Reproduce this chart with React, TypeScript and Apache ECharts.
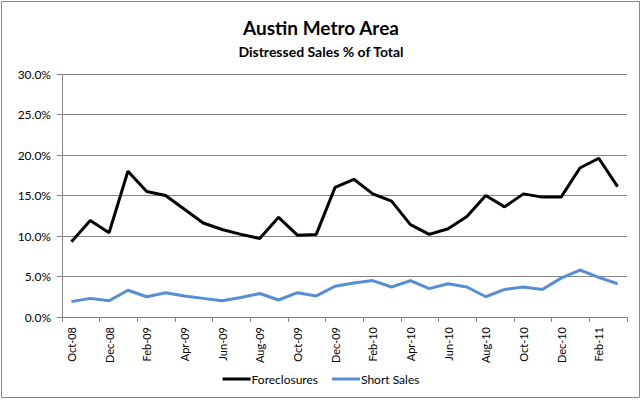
import React, { useEffect, useRef } from "react";
import * as echarts from "echarts";

const categories = [
  "Oct-08", "Nov-08", "Dec-08", "Jan-09", "Feb-09", "Mar-09", "Apr-09", "May-09", "Jun-09", "Jul-09",
  "Aug-09", "Sep-09", "Oct-09", "Nov-09", "Dec-09", "Jan-10", "Feb-10", "Mar-10", "Apr-10", "May-10",
  "Jun-10", "Jul-10", "Aug-10", "Sep-10", "Oct-10", "Nov-10", "Dec-10", "Jan-11", "Feb-11", "Mar-11",
];

const foreclosures = [
  9.3, 11.9, 10.4, 18.0, 15.5, 15.0, 13.3, 11.6, 10.8, 10.2,
  9.7, 12.3, 10.1, 10.2, 16.0, 17.0, 15.2, 14.3, 11.4, 10.2,
  10.9, 12.4, 15.0, 13.6, 15.2, 14.8, 14.8, 18.4, 19.6, 16.1,
];

const shortSales = [
  1.9, 2.3, 2.0, 3.3, 2.5, 3.0, 2.6, 2.3, 2.0, 2.4,
  2.9, 2.1, 3.0, 2.6, 3.8, 4.2, 4.5, 3.7, 4.5, 3.5,
  4.1, 3.7, 2.5, 3.4, 3.7, 3.4, 4.8, 5.8, 4.9, 4.1,
];

const FONT = "Lato, 'Noto Sans', sans-serif";
const GRID = "#868686";

export default function App() {
  const ref = useRef<HTMLDivElement>(null);
  useEffect(() => {
    if (!ref.current) return;
    const chart = echarts.init(ref.current, undefined, { renderer: "svg" });
    chart.setOption({
      animation: false,
      backgroundColor: "#ffffff",
      textStyle: { fontFamily: FONT },
      title: [
        {
          text: "Austin Metro Area",
          left: "center",
          top: 13,
          textStyle: { fontFamily: FONT, fontSize: 19, fontWeight: "bold", color: "#000" },
        },
        {
          text: "Distressed Sales % of Total",
          left: "center",
          top: 39,
          textStyle: { fontFamily: FONT, fontSize: 14, fontWeight: "bold", color: "#000" },
        },
      ],
      graphic: [
        {
          type: "rect",
          shape: { x: 1.5, y: 1.5, width: 638, height: 396 },
          style: { fill: "none", stroke: GRID, lineWidth: 1 },
          silent: true,
        },
      ],
      legend: {
        bottom: 13,
        left: "center",
        icon: "rect",
        itemWidth: 28,
        itemHeight: 3,
        itemGap: 14,
        textStyle: { fontFamily: FONT, fontSize: 12, color: "#000", padding: [0, 0, 0, -4] },
        data: ["Foreclosures", "Short Sales"],
      },
      grid: { left: 62, right: 15, top: 74, bottom: 86, containLabel: false },
      xAxis: {
        type: "category",
        data: categories,
        boundaryGap: true,
        axisLine: { lineStyle: { color: GRID, width: 1 } },
        axisTick: { show: true, interval: 1, length: 5, alignWithLabel: false, lineStyle: { color: GRID } },
        axisLabel: {
          interval: 1,
          rotate: 90,
          fontSize: 11,
          color: "#000",
          fontFamily: FONT,
          margin: 10,
        },
        splitLine: { show: false },
      },
      yAxis: {
        type: "value",
        min: 0,
        max: 30,
        interval: 5,
        axisLine: { show: true, lineStyle: { color: GRID, width: 1 } },
        axisTick: { show: true, length: 5, lineStyle: { color: GRID } },
        axisLabel: {
          formatter: (v: number) => v.toFixed(1) + "%",
          fontSize: 12,
          color: "#000",
          fontFamily: FONT,
          margin: 11,
        },
        splitLine: { show: true, lineStyle: { color: GRID, width: 1 } },
      },
      series: [
        {
          name: "Foreclosures",
          type: "line",
          data: foreclosures,
          showSymbol: false,
          symbol: "none",
          lineStyle: { color: "#000000", width: 3 },
          itemStyle: { color: "#000000" },
        },
        {
          name: "Short Sales",
          type: "line",
          data: shortSales,
          showSymbol: false,
          symbol: "none",
          lineStyle: { color: "#558ED5", width: 3 },
          itemStyle: { color: "#558ED5" },
        },
      ],
    });
    return () => chart.dispose();
  }, []);
  return (
    <div
      ref={ref}
      style={{ position: "absolute", left: 0, top: 0, width: 642, height: 403 }}
    />
  );
}
